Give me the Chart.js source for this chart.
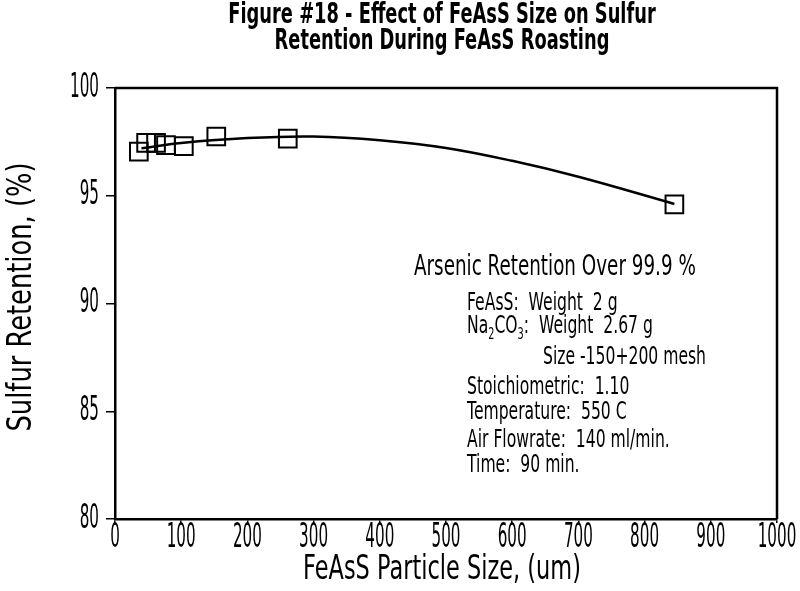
<!DOCTYPE html>
<html>
<head>
<meta charset="utf-8">
<script src="https://cdn.jsdelivr.net/npm/chart.js@4/dist/chart.umd.min.js"></script>
<style>
  body { margin: 0; background: #fff; }
  #wrap { width: 800px; height: 591px; }
</style>
</head>
<body>
<div id="wrap"><canvas id="sulfur" width="800" height="591"></canvas></div>
<script>
const particleSize = [36, 47, 62, 77, 104, 153, 261, 845];
const sulfurRetention = [97.05, 97.45, 97.45, 97.35, 97.3, 97.75, 97.65, 94.6];

// hand drawn fit curve, read at a few spots
const curveSize = [40, 100, 200, 300, 400, 500, 600, 700, 845];
const curveRetention = [97.2, 97.45, 97.68, 97.75, 97.58, 97.22, 96.62, 95.88, 94.62];

const xTicks = [0, 100, 200, 300, 400, 500, 600, 700, 800, 900, 1000];
const yTicks = [80, 85, 90, 95, 100];

const titleLines = ['Figure #18 - Effect of FeAsS Size on Sulfur', 'Retention During FeAsS Roasting'];
const xTitle = 'FeAsS Particle Size, (um)';
const yTitle = 'Sulfur Retention, (%)';

const FONT = '"DejaVu Sans", sans-serif';

// plotter lettering is very narrow, so squeeze normal text sideways
function squeezeText(ctx, str, x, y, size, squeeze, align, bold) {
  ctx.save();
  ctx.font = (bold ? 'bold ' : '') + size + 'px ' + FONT;
  ctx.textBaseline = 'middle';
  ctx.textAlign = 'left';
  const w = ctx.measureText(str).width * squeeze;
  let left = x;
  if (align === 'center') left = x - w / 2;
  if (align === 'right') left = x - w;
  ctx.translate(left, y);
  ctx.scale(squeeze, 1);
  ctx.fillText(str, 0, 0);
  ctx.restore();
  return w;
}

const framePlugin = {
  id: 'frame',
  afterDraw(chart) {
    const ctx = chart.ctx;
    const a = chart.chartArea;
    const xs = chart.scales.x, ys = chart.scales.y;
    ctx.save();
    ctx.strokeStyle = '#000';
    ctx.lineWidth = 2.5;
    ctx.beginPath();
    ctx.moveTo(a.left, a.top);
    ctx.lineTo(a.right, a.top);
    ctx.lineTo(a.right, a.bottom);
    ctx.stroke();

    ctx.fillStyle = '#000';

    // tick labels
    xs.ticks.forEach(t => {
      squeezeText(ctx, String(t.value), xs.getPixelForValue(t.value), a.bottom + 19, 33, 0.46, 'center');
    });
    ys.ticks.forEach(t => {
      squeezeText(ctx, String(t.value), a.left - 16, ys.getPixelForValue(t.value), 33, 0.46, 'right');
    });

    // axis titles
    squeezeText(ctx, xTitle, (a.left + a.right) / 2 - 4, 570, 33, 0.68, 'center');
    ctx.save();
    ctx.translate(22, 297);
    ctx.rotate(-Math.PI / 2);
    squeezeText(ctx, yTitle, 0, 0, 33, 0.78, 'center');
    ctx.restore();

    // title
    const cx = (a.left + a.right) / 2 - 4;
    squeezeText(ctx, titleLines[0], cx, 15, 29, 0.615, 'center', true);
    squeezeText(ctx, titleLines[1], cx, 41, 29, 0.615, 'center', true);

    // notes
    squeezeText(ctx, 'Arsenic Retention Over 99.9 %', 414, 268, 28, 0.655, 'left');
    const s = 24, q = 0.65, lx = 467;
    squeezeText(ctx, 'FeAsS:  Weight  2 g', lx, 304, s, q, 'left');
    let px = lx;
    px += squeezeText(ctx, 'Na', px, 327, s, q, 'left');
    px += squeezeText(ctx, '2', px, 335, 15, q, 'left');
    px += squeezeText(ctx, 'CO', px, 327, s, q, 'left');
    px += squeezeText(ctx, '3', px, 335, 15, q, 'left');
    squeezeText(ctx, ':  Weight  2.67 g', px, 327, s, q, 'left');
    squeezeText(ctx, 'Size -150+200 mesh', 543, 358, s, q, 'left');
    squeezeText(ctx, 'Stoichiometric:  1.10', lx, 388, s, q, 'left');
    squeezeText(ctx, 'Temperature:  550 C', lx, 413, s, q, 'left');
    squeezeText(ctx, 'Air Flowrate:  140 ml/min.', lx, 441, s, q, 'left');
    squeezeText(ctx, 'Time:  90 min.', lx, 466, s, q, 'left');
    ctx.restore();
  }
};

const ctx = document.getElementById('sulfur');
const chart = new Chart(ctx, {
  type: 'scatter',
  data: {
    datasets: [
      {
        label: 'fit',
        data: curveSize.map((x, i) => ({ x: x, y: curveRetention[i] })),
        showLine: true,
        borderColor: '#000',
        borderWidth: 2.5,
        pointRadius: 0,
        tension: 0.4,
        fill: false
      },
      {
        label: 'Sulfur Retention',
        data: particleSize.map((x, i) => ({ x: x, y: sulfurRetention[i] })),
        pointStyle: 'rect',
        pointRadius: 12.5,
        borderColor: '#000',
        borderWidth: 2,
        backgroundColor: 'rgba(0,0,0,0)'
      }
    ]
  },
  options: {
    responsive: false,
    animation: false,
    layout: { padding: { top: 88, right: 23, left: 0, bottom: 0 } },
    plugins: {
      legend: { display: false },
      title: { display: false },
      tooltip: { enabled: false }
    },
    scales: {
      x: {
        type: 'linear',
        min: 0,
        max: 1000,
        afterBuildTicks: (s) => { s.ticks = xTicks.map(v => ({ value: v })); },
        afterFit: (s) => { s.height = 72; },
        ticks: { display: false },
        grid: { drawOnChartArea: false, drawTicks: true, tickLength: 4, color: '#000', lineWidth: 1.5 },
        border: { display: true, color: '#000', width: 2.5 }
      },
      y: {
        min: 80,
        max: 100,
        afterBuildTicks: (s) => { s.ticks = yTicks.map(v => ({ value: v })); },
        afterFit: (s) => { s.width = 115; },
        ticks: { display: false },
        grid: { drawOnChartArea: false, drawTicks: true, tickLength: 9, color: '#000', lineWidth: 1.5 },
        border: { display: true, color: '#000', width: 2.5 }
      }
    }
  },
  plugins: [framePlugin]
});
</script>
</body>
</html>
